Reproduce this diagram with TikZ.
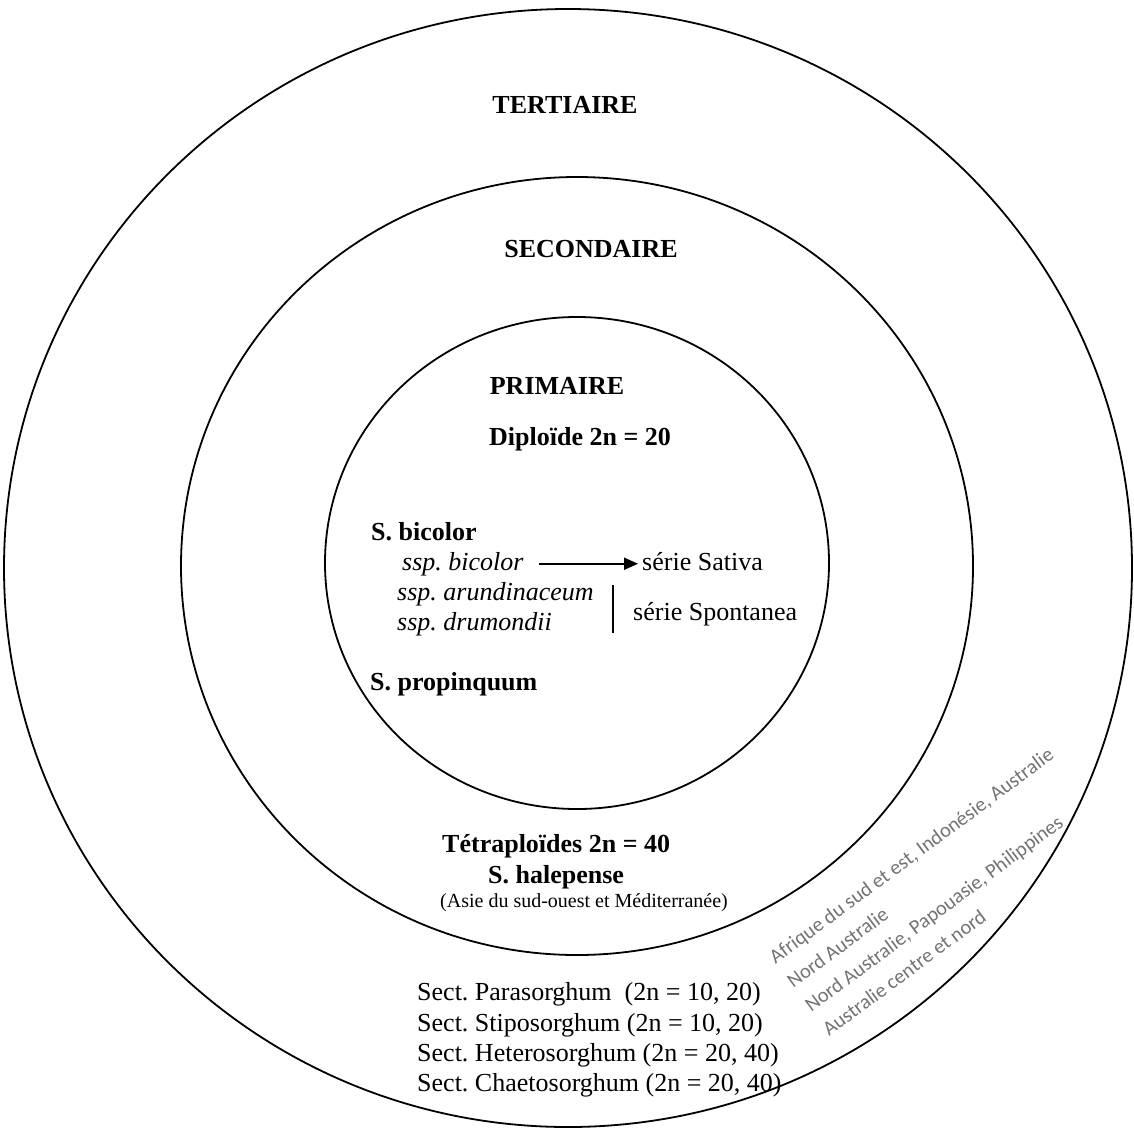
\documentclass[tikz,border=0pt]{standalone}
\usepackage{fontspec}
\setmainfont{Liberation Serif}
\newfontfamily\calibri{Carlito}
\usetikzlibrary{arrows.meta,positioning}
\frenchspacing
\tikzstyle{ring} = [draw=black, line width=1.8pt]
\tikzstyle{pool} = [inner sep=0pt, anchor=base, font=\bfseries\fontsize{26}{30}\selectfont]
\tikzstyle{taxon} = [inner sep=0pt, anchor=base west, font=\bfseries\fontsize{26}{30}\selectfont]
\tikzstyle{ssp} = [inner sep=0pt, anchor=base west, font=\itshape\fontsize{26}{30}\selectfont]
\tikzstyle{serie} = [inner sep=0pt, anchor=base west, font=\fontsize{26}{30}\selectfont]
\tikzstyle{region} = [inner sep=0pt, anchor=base west, align=left, rotate=36.5, text=black!55, font=\calibri\fontsize{20.5}{30}\selectfont]
\tikzstyle{tedge} = [draw, line width=2pt, -{Triangle[length=14pt,width=12pt]}]

\begin{document}
\begin{tikzpicture}[x=1pt, y=-1pt]
\useasboundingbox (0,0) rectangle (1134,1130);

% pools =============================
\draw[ring] (568,568) ellipse [x radius=564pt, y radius=559pt];
\draw[ring] (577,566) ellipse [x radius=396pt, y radius=389pt];
\draw[ring] (577,563) ellipse [x radius=252pt, y radius=246pt];

\node[pool] (tert) at (565,113) {TERTIAIRE};
\node[pool] (sec) at (591,257) {SECONDAIRE};
\node[pool] (prim) at (557,394) {PRIMAIRE};
\node[taxon] (diplo) at (489,445) {Diploïde 2n = 20};

% primary pool
\node[taxon] (bicolor) at (371,540) {S. bicolor};
\node[ssp] (sspbic) at (402,570) {ssp. bicolor};
\node[serie] (sativa) at (642,570) {série Sativa};
\node[ssp] (arund) at (397,600) {ssp. arundinaceum};
\node[ssp] (drum) at (397,630) {ssp. drumondii};
\node[serie] (spont) at (633,620) {série Spontanea};
\node[taxon] (propin) at (370,690) {S. propinquum};

% secondary pool
\node[taxon] (tetra) at (442,852) {Tétraploïdes 2n = 40};
\node[taxon] (halep) at (488,883) {S. halepense};
\node[serie, font=\fontsize{20}{24}\selectfont] (asie) at (440,907) {(Asie du sud-ouest et Méditerranée)};

% tertiary pool
\node[serie] (para) at (417,1000) {Sect. Parasorghum\enspace(2n = 10, 20)};
\node[serie] (stipo) at (417,1031) {Sect. Stiposorghum (2n = 10, 20)};
\node[serie] (hetero) at (417,1061) {Sect. Heterosorghum (2n = 20, 40)};
\node[serie] (chaeto) at (417,1091) {Sect. Chaetosorghum (2n = 20, 40)};

% base of this node is its last line
\node[region] (origins) at (829,1037) {Afrique du sud et est, Indonésie, Australie\\
  Nord Australie\\
  Nord Australie, Papouasie, Philippines\\
  Australie centre et nord};

%edges
\coordinate (bartop) at (613,585);
\coordinate (barbot) at (613,633);
\path[tedge, shorten <=15pt, shorten >=4pt] (sspbic.east) -- (sspbic.east -| sativa.west);
\draw[line width=2pt] (bartop) -- (barbot);

\end{tikzpicture}
\end{document}
